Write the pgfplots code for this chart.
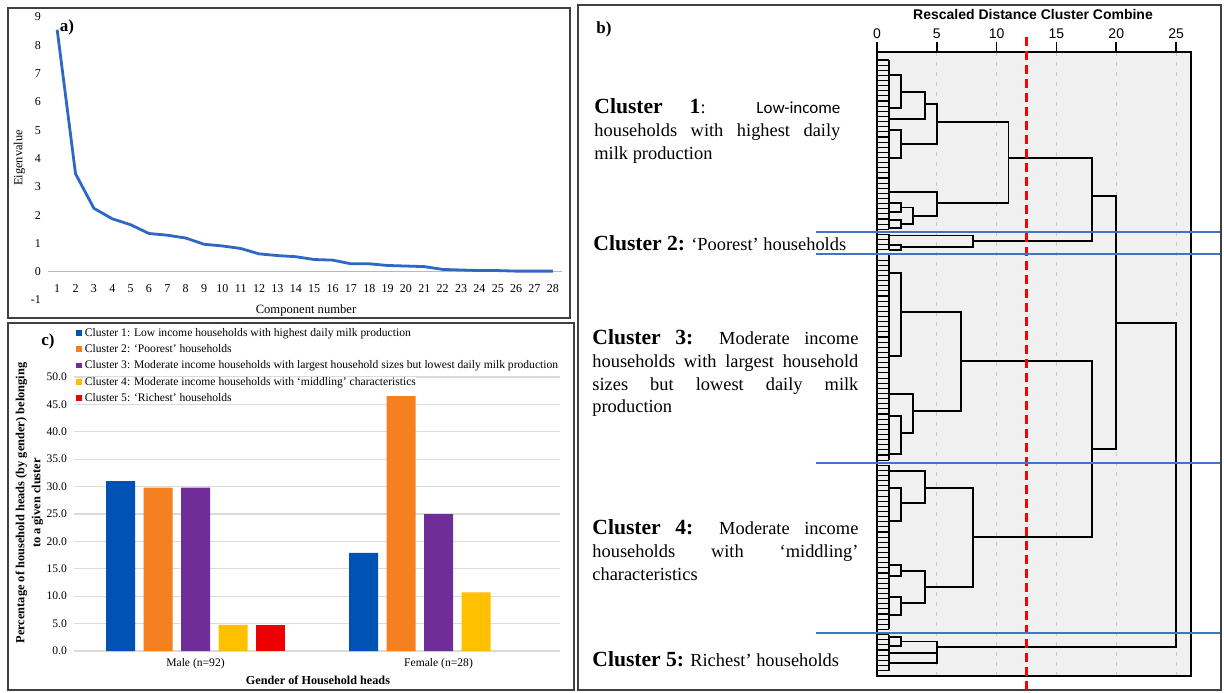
\documentclass[border=0pt]{standalone}
\usepackage{pgfplots}
\pgfplotsset{compat=1.18}
\usepackage{fontspec}
\setmainfont{Liberation Serif}
\setsansfont{Liberation Sans}
\newfontfamily\carlito{Carlito}
\definecolor{lineblue}{RGB}{46,104,196}
\definecolor{cb}{RGB}{0,82,180}
\definecolor{co}{RGB}{245,128,32}
\definecolor{cp}{RGB}{112,44,152}
\definecolor{cy}{RGB}{255,192,0}
\definecolor{cr}{RGB}{238,0,0}
\definecolor{sepblue}{RGB}{68,114,196}
\definecolor{boxfill}{RGB}{240,240,240}
\newcommand{\rg}{\fontsize{9.2}{11}\selectfont}
\newcommand{\bd}[1]{{\fontsize{10.8}{12}\selectfont\bfseries #1}}
\begin{document}
\begin{tikzpicture}
\useasboundingbox (0,0) rectangle (612pt,-346pt);
\fill[white] (0,0) rectangle (612pt,-346pt);
% panel frames
\draw[line width=0.7pt, black!75] (4pt,-4pt) rectangle (285pt,-159pt);
\draw[line width=0.7pt, black!75] (4pt,-161.5pt) rectangle (287pt,-345pt);
\draw[line width=0.7pt, black!75] (289pt,-2.5pt) rectangle (610.5pt,-345pt);

% ---------------- panel a
\begin{axis}[at={(24pt,-8.5pt)}, anchor=north west, width=257pt, height=141.5pt, scale only axis,
  xmin=0.5, xmax=28.5, ymin=-1, ymax=9,
  axis x line=middle, axis y line=left, axis line style={-},
  y axis line style={draw=none}, x axis line style={draw=gray!55, line width=0.6pt},
  hide obscured x ticks=false, hide obscured y ticks=false,
  xtick={1,...,28}, ytick={-1,0,...,9}, major tick length=0pt,
  tick label style={font=\fontsize{6}{7}\selectfont},
  xticklabel style={yshift=-3pt},
  /pgf/number format/assume math mode=true,
  clip=false]
\addplot[lineblue, line width=1.4pt, line join=round] coordinates {
(1,8.55) (2,3.46) (3,2.24) (4,1.87) (5,1.66) (6,1.35) (7,1.29) (8,1.19) (9,0.97) (10,0.91)
(11,0.82) (12,0.63) (13,0.57) (14,0.53) (15,0.43) (16,0.41) (17,0.28) (18,0.28) (19,0.22) (20,0.20)
(21,0.18) (22,0.08) (23,0.06) (24,0.04) (25,0.04) (26,0.02) (27,0.02) (28,0.02)};
\end{axis}

% ---------------- panel c
\begin{axis}[at={(37pt,-188.5pt)}, anchor=north west, width=243pt, height=137pt, scale only axis,
  xmin=-0.5, xmax=1.5, ymin=0, ymax=50,
  ybar=4.25pt, bar width=14.5pt,
  axis line style={draw=none}, major tick length=0pt,
  ymajorgrids, grid style={draw=gray!28, line width=0.6pt},
  xtick={0,1}, xticklabels={Male (n=92), Female (n=28)},
  ytick={0,5,...,50},
  yticklabel={\pgfmathprintnumber[fixed,fixed zerofill,precision=1]{\tick}},
  /pgf/number format/assume math mode=true,
  tick label style={font=\fontsize{5.8}{7}\selectfont},
  legend style={at={(0,1)}, anchor=north west, xshift=1pt, yshift=24.75pt, draw=none, fill=none,
    inner sep=0pt, row sep=2.67pt, column sep=1.4pt, font=\fontsize{5.8}{7}\selectfont,
    nodes={inner sep=0pt, text height=4.2pt, text depth=1.3pt, fill=white}},
  legend cell align=left,
  legend image code/.code={\fill[#1] (0pt,-1.1pt) rectangle (2.8pt,1.7pt);},
  clip=false]
\addplot[draw=none, fill=cb] coordinates {(0,31.0) (1,17.9)};
\addplot[draw=none, fill=co] coordinates {(0,29.8) (1,46.5)};
\addplot[draw=none, fill=cp] coordinates {(0,29.8) (1,25.0)};
\addplot[draw=none, fill=cy] coordinates {(0,4.75) (1,10.7)};
\addplot[draw=none, fill=cr] coordinates {(0,4.75)};
\legend{Cluster 1: Low income households with highest daily milk production,
Cluster 2: ‘Poorest’ households,
Cluster 3: Moderate income households with largest household sizes but lowest daily milk production,
Cluster 4: Moderate income households with ‘middling’ characteristics,
Cluster 5: ‘Richest’ households}
\end{axis}

% ---------------- panel b
\begin{axis}[at={(438.5pt,-26pt)}, anchor=north west, width=157pt, height=312pt, scale only axis,
  xmin=0, xmax=26.25, ymin=52, ymax=676, y dir=reverse,
  axis background/.style={fill=boxfill},
  axis line style={black, line width=0.8pt},
  xtick={0,5,...,25}, xtick pos=upper, xticklabel pos=upper, tick align=outside, major tick length=5pt,
  tick style={black, line width=0.8pt},
  ytick=\empty,
  xmajorgrids, grid style={dash pattern=on 2pt off 3pt, gray!45, line width=0.5pt},
  tick label style={font=\sffamily\fontsize{7}{8}\selectfont},
  xticklabel style={yshift=-2pt},
  /pgf/number format/assume math mode=true,
  clip=false]
% leaf stubs
\addplot[xcomb, black, line width=0.55pt] coordinates {
(1,60.0) (1,65.1) (1,70.3) (1,75.4) (1,80.5) (1,85.7) (1,90.8) (1,95.9) (1,101.0) (1,106.2)
(1,111.3) (1,116.4) (1,121.6) (1,126.7) (1,131.8) (1,137.0) (1,142.1) (1,147.2) (1,152.3) (1,157.5)
(1,162.6) (1,167.7) (1,172.9) (1,178.0) (1,183.1) (1,188.3) (1,193.4) (1,198.5) (1,203.6) (1,208.8)
(1,213.9) (1,219.0) (1,224.2) (1,229.3) (1,234.4) (1,239.6) (1,244.7) (1,249.8) (1,254.9) (1,260.1)
(1,265.2) (1,270.3) (1,275.5) (1,280.6) (1,285.7) (1,290.9) (1,296.0) (1,301.1) (1,306.2) (1,311.4)
(1,316.5) (1,321.6) (1,326.8) (1,331.9) (1,337.0) (1,342.2) (1,347.3) (1,352.4) (1,357.5) (1,362.7)
(1,367.8) (1,372.9) (1,378.1) (1,383.2) (1,388.3) (1,393.5) (1,398.6) (1,403.7) (1,408.8) (1,414.0)
(1,419.1) (1,424.2) (1,429.4) (1,434.5) (1,439.6) (1,444.8) (1,449.9) (1,455.0) (1,460.1) (1,465.3)
(1,470.4) (1,475.5) (1,480.7) (1,485.8) (1,490.9) (1,496.1) (1,501.2) (1,506.3) (1,511.4) (1,516.6)
(1,521.7) (1,526.8) (1,532.0) (1,537.1) (1,542.2) (1,547.4) (1,552.5) (1,557.6) (1,562.7) (1,567.9)
(1,573.0) (1,578.1) (1,583.3) (1,588.4) (1,593.5) (1,598.7) (1,603.8) (1,608.9) (1,614.0) (1,619.2)
(1,624.3) (1,629.4) (1,634.6) (1,639.7) (1,644.8) (1,650.0) (1,655.1) (1,660.2) (1,665.3) (1,670.5)};
% leaf-level verticals
\addplot[black, line width=0.6pt, unbounded coords=jump] coordinates {
(1,60) (1,229.3) (nan,nan) (1,234.4) (1,249.8) (nan,nan) (1,254.9) (1,460.1) (nan,nan)
(1,465.3) (1,629.4) (nan,nan) (1,634.6) (1,670.5)};
% merges
\addplot[black, line width=0.85pt, unbounded coords=jump, line join=miter] coordinates {
(1,75) (2,75) (2,108.3) (1,108.3) (nan,nan)
(2,92) (4,92) (4,119.3) (1,119.3) (nan,nan)
(1,130) (2,130) (2,158.3) (1,158.3) (nan,nan)
(4,104) (5,104) (5,144) (2,144) (nan,nan)
(1,203.3) (2,203.3) (2,211.7) (1,211.7) (nan,nan)
(1,220) (2,220) (2,228.3) (1,228.3) (nan,nan)
(2,207.5) (3,207.5) (3,224) (2,224) (nan,nan)
(1,191.7) (5,191.7) (5,215.7) (3,215.7) (nan,nan)
(5,122) (11,122) (11,203) (5,203) (nan,nan)
(1,244.7) (2,244.7) (2,249.8) (1,249.8) (nan,nan)
(1,235.5) (8,235.5) (8,247) (2,247) (nan,nan)
(11,158) (18,158) (18,241) (8,241) (nan,nan)
(1,273) (2,273) (2,356) (1,356) (nan,nan)
(1,416) (2,416) (2,454) (1,454) (nan,nan)
(1,394) (3,394) (3,432.7) (2,432.7) (nan,nan)
(2,311.7) (7,311.7) (7,410.7) (3,410.7) (nan,nan)
(1,487.7) (2,487.7) (2,520.7) (1,520.7) (nan,nan)
(1,470.7) (4,470.7) (4,503.3) (2,503.3) (nan,nan)
(1,565) (2,565) (2,576) (1,576) (nan,nan)
(1,596.7) (2,596.7) (2,615) (1,615) (nan,nan)
(2,570.7) (4,570.7) (4,603.3) (2,603.3) (nan,nan)
(4,487.7) (8,487.7) (8,586.7) (4,586.7) (nan,nan)
(7,361) (18,361) (18,537.3) (8,537.3) (nan,nan)
(18,196) (20,196) (20,449.3) (18,449.3) (nan,nan)
(1,637) (2,637) (2,646) (1,646) (nan,nan)
(2,641.5) (5,641.5) (5,663.3) (1,663.3) (nan,nan)
(1,653.3) (5,653.3) (nan,nan)
(5,647.3) (25,647.3) (25,322.7) (20,322.7)};
% cut-off line
\addplot[red, line width=1.2pt, dash pattern=on 4.5pt off 2.5pt] coordinates {(12.5,37) (12.5,690)};
% cluster separators
\addplot[sepblue, line width=1pt, unbounded coords=jump] coordinates {
(-5.1,231.7) (28.7,231.7) (nan,nan) (-5.1,254.3) (28.7,254.3) (nan,nan)
(-5.1,462.5) (28.7,462.5) (nan,nan) (-5.1,632.7) (28.7,632.7)};
\end{axis}

% ---------------- texts
\begin{scope}[x=0.5pt, y=-0.5pt]
\node[font=\fontsize{8.5}{9}\selectfont\bfseries] at (67,27) {a)};
\node[font=\fontsize{8.5}{9}\selectfont\bfseries] at (604,29) {b)};
\node[font=\fontsize{8.5}{9}\selectfont\bfseries] at (48,341) {c)};
\node[rotate=90, font=\fontsize{6.2}{7}\selectfont] at (19.5,158) {Eigenvalue};
\node[font=\fontsize{6.3}{7}\selectfont] at (306,310) {Component number};
\node[rotate=90, align=center, font=\fontsize{6.2}{8}\selectfont\bfseries] at (29.5,503)
  {Percentage of household heads (by gender) belonging\\to a given cluster};
\node[font=\fontsize{6.1}{7}\selectfont\bfseries] at (318,680) {Gender of Household heads};
\node[font=\sffamily\fontsize{7}{8}\selectfont\bfseries] at (1033,14) {Rescaled Distance Cluster Combine};
% cluster descriptions
\node[anchor=base west, inner sep=0] at (594,113) {\rg\makebox[123pt][s]{\bd{Cluster} \bd{1}: {\carlito\fontsize{8.5}{10}\selectfont Low-income}}};
\node[anchor=base west, inner sep=0] at (594,136.5) {\rg\makebox[123pt][s]{households with highest daily}};
\node[anchor=base west, inner sep=0] at (594,159) {\rg milk production};
\node[anchor=base west, inner sep=0] at (593,250.5) {\rg\bd{Cluster 2:} ‘Poorest’ households};
\node[anchor=base west, inner sep=0] at (592,344.5) {\rg\makebox[133pt][s]{\bd{Cluster} \bd{3:} Moderate income}};
\node[anchor=base west, inner sep=0] at (592,367.5) {\rg\makebox[133pt][s]{households with largest household}};
\node[anchor=base west, inner sep=0] at (592,390.5) {\rg\makebox[133pt][s]{sizes but lowest daily milk}};
\node[anchor=base west, inner sep=0] at (592,412.5) {\rg production};
\node[anchor=base west, inner sep=0] at (592,534) {\rg\makebox[133pt][s]{\bd{Cluster} \bd{4:} Moderate income}};
\node[anchor=base west, inner sep=0] at (592,557) {\rg\makebox[133pt][s]{households with ‘middling’}};
\node[anchor=base west, inner sep=0] at (592,580) {\rg characteristics};
\node[anchor=base west, inner sep=0] at (592,666) {\rg\bd{Cluster 5:} Richest’ households};
\end{scope}
\end{tikzpicture}
\end{document}
